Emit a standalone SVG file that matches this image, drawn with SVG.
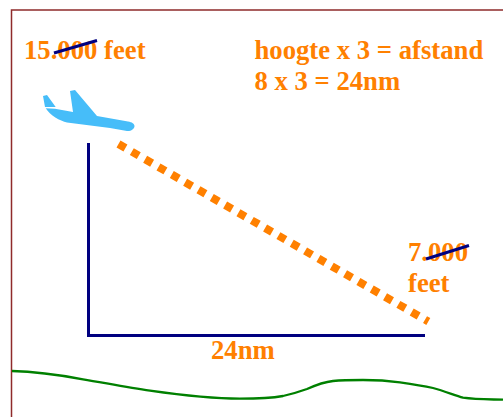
<svg xmlns="http://www.w3.org/2000/svg" width="503" height="417" viewBox="0 0 503 417">
<style>
text{font-family:"Liberation Serif","Times New Roman",serif;font-weight:bold;font-size:26.7px;fill:#ff8000}
.navy{fill:none;stroke:#000080;stroke-width:3}
.strike{fill:none;stroke:#000080;stroke-width:3}
</style>
<rect width="503" height="417" fill="#fff"/>
<path d="M11.500 417V10H503" fill="none" stroke="#8f2b2b" stroke-width="1.500"/>
<g id="connectors">
<path class="navy" d="M88.500 143V335.500H425"/>
<path d="M118.500 144L428.300 321.500" fill="none" stroke="#ff8000" stroke-width="8" stroke-dasharray="8 7.360"/>
<path d="M12 371C36 371.500 60 375 83 379.300C105 383 128 387.500 150 390.700C180 395 210 398.700 240 398.700C258 398.700 272 398 283 396C292 394 300 391.500 307 389C316 385 324 382 333 381C343 380 353 380 363 380C376 380 388 380.700 400 382.300C412 384 422 385.500 433 388C444 391 454 395 463 397.700C476 399.500 490 399.300 503 399.700" fill="none" stroke="#008000" stroke-width="2.300"/>
</g>
<g id="plane">
<path fill="#46bdf9" d="M43 96L47 95L55.700 107L45 107ZM45.700 108.300L55 108.700L73 112L70 91L75 90L97 116L128 121.500C132 122 134.500 124 134.500 126C134.500 129 131 131.300 127 131L110 128L67 122.500C60 121 50 115.500 45.700 108.300Z"/>
</g>
<g id="label-15000"><text x="24" y="58.500">15.000 feet</text><path class="strike" d="M54 53L97 40.500"/></g>
<g id="label-formula"><text x="254.500" y="59">hoogte x 3 = afstand</text><text x="254.500" y="90">8 x 3 = 24nm</text></g>
<g id="label-7000"><text x="408" y="261">7.000</text><text x="408" y="292">feet</text><path class="strike" d="M426 259L469 245.500"/></g>
<g id="label-24nm"><text x="211" y="359">24nm</text></g>
</svg>
